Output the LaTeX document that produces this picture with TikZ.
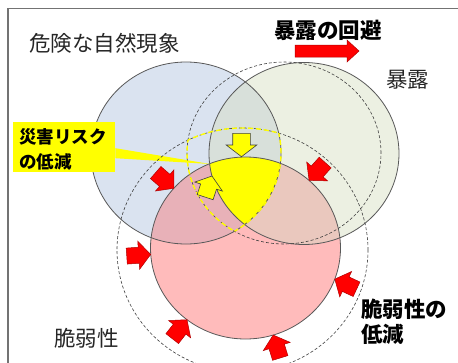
\documentclass[tikz,border=0pt]{standalone}
\usepackage{fontspec}
\setmainfont{Noto Sans CJK JP}
\begin{document}
\definecolor{cHaz}{HTML}{DAE3F0}
\definecolor{cExp}{HTML}{ECF0E2}
\definecolor{cVul}{HTML}{FFBBBB}
\definecolor{cHE}{HTML}{D8E0DA}
\definecolor{cHV}{HTML}{E8B1B8}
\definecolor{cEV}{HTML}{EAC8BE}
\definecolor{cYel}{HTML}{FFFF00}
\definecolor{cRed}{HTML}{FF0000}
\definecolor{cRedEdge}{HTML}{B00000}
\definecolor{cTxt}{HTML}{262626}
\newcommand\pHaz{(hzc) ellipse [x radius=95pt, y radius=91pt]}
\newcommand\pExp{(exc) ellipse [x radius=95pt, y radius=91pt]}
\newcommand\pVul{(vuc) ellipse [x radius=95pt, y radius=91pt]}
\newcommand\pExpOld{(exo) ellipse [x radius=97pt, y radius=91pt]}
\newcommand\pVulOld{(vuo) ellipse [x radius=125.5pt, y radius=122pt]}
\tikzset{
  frame/.style={draw=black!55, line width=1.2pt},
  circ/.style={draw=black!65, line width=0.8pt},
  olddash/.style={draw=black!75, line width=0.6pt, dash pattern=on 3pt off 2pt},
  ydash/.style={draw=cYel, line width=1.4pt, dash pattern=on 5pt off 3pt},
  redarr/.style={fill=cRed, draw=cRedEdge, line width=0.5pt},
  yelarr/.style={fill=cYel, draw=black!75, line width=0.6pt},
  lab/.style={inner sep=0pt, text=cTxt, font=\fontsize{21.5}{25}\selectfont},
  blab/.style={inner sep=0pt, text=black, font=\bfseries\fontsize{21.5}{25}\selectfont, align=left},
  sblab/.style={inner sep=0pt, text=black, font=\bfseries\fontsize{17.5}{25}\selectfont, align=left},
  blockarr/.pic={\path[pic actions] (0,0) -- (-12,14) -- (-12,8) -- (-24,8) -- (-24,-8) -- (-12,-8) -- (-12,-14) -- cycle;},
  yblock/.pic={\path[pic actions] (0,0) -- (-11.7,15.3) -- (-11.7,8.8) -- (-23.4,8.8) -- (-23.4,-8.8) -- (-11.7,-8.8) -- (-11.7,-15.3) -- cycle;}
}
\begin{tikzpicture}[x=1pt,y=-1pt]
\useasboundingbox (0,0) rectangle (458,362);
\clip (0,0) rectangle (458,362);
\fill[white] (0,0) rectangle (458,362);
\draw[frame] (8,8.5) rectangle (480,390);

\coordinate (hzc) at (186,153);
\coordinate (exc) at (304,153.5);
\coordinate (vuc) at (245.5,248);
\coordinate (exo) at (284,153);
\coordinate (vuo) at (242.5,250);

% region fills
\fill[cHaz] \pHaz;
\fill[cExp] \pExp;
\fill[cVul] \pVul;
\begin{scope}\clip \pHaz; \fill[cHE] \pExp; \end{scope}
\begin{scope}\clip \pHaz; \fill[cHV] \pVul; \end{scope}
\begin{scope}\clip \pExp; \fill[cEV] \pVul; \end{scope}
\begin{scope}\clip \pHaz; \clip \pExp; \fill[cYel] \pVul; \end{scope}

% outlines
\path[circ] \pHaz;
\path[circ] \pExp;
\path[circ] \pVul;

% callout
\node[fill=cYel, minimum width=102pt, minimum height=50pt, anchor=north west, inner sep=0pt] (riskbox) at (13,122) {};
\coordinate (risktip) at (210,164);
\fill[cYel] ([yshift=-1pt]riskbox.east) -- (risktip) -- ([yshift=-11pt]riskbox.east) -- cycle;
\node[sblab, anchor=west] (risklbl) at (19,149.5) {災害リスク\\の低減};

% old (dashed) circles
\path[olddash] \pExpOld;
\path[olddash] \pVulOld;

% old risk area outline
\begin{scope}\clip \pHaz; \clip \pExpOld; \path[ydash] \pVulOld; \end{scope}
\begin{scope}\clip \pHaz; \clip \pVulOld; \path[ydash] \pExpOld; \end{scope}
\begin{scope}\clip \pExpOld; \clip \pVulOld; \path[ydash] \pHaz; \end{scope}

% yellow arrows
\pic[yelarr, rotate=-90] at (241.5,156.7) {yblock};
\pic[yelarr, rotate=72, scale=0.95] at (212,176) {yblock};

% red arrows
\pic[redarr, rotate=-41] at (173.8,188.3) {blockarr};
\pic[redarr, rotate=-132] at (309.1,180.4) {blockarr};
\pic[redarr, rotate=4] at (150.7,254.4) {blockarr};
\pic[redarr, rotate=52] at (187.0,319.7) {blockarr};
\pic[redarr, rotate=107] at (273.2,335.0) {blockarr};
\pic[redarr, rotate=155] at (334.8,279.1) {blockarr};

% avoid exposure arrow
\path[redarr] (359,51) -- (347,40) -- (347,45) -- (295,45) -- (295,57) -- (347,57) -- (347,62) -- cycle;

% labels
\node[lab, anchor=west] (hazlbl) at (29,43) {危険な自然現象};
\node[blab, anchor=west] (avoidlbl) at (274,30) {暴露の回避};
\node[lab, anchor=west] (explbl) at (386,80) {暴露};
\node[lab, anchor=west] (vullbl) at (54,338) {脆弱性};
\node[blab, anchor=west] (vredlbl) at (361,321.5) {脆弱性の\\低減};
\end{tikzpicture}
\end{document}
